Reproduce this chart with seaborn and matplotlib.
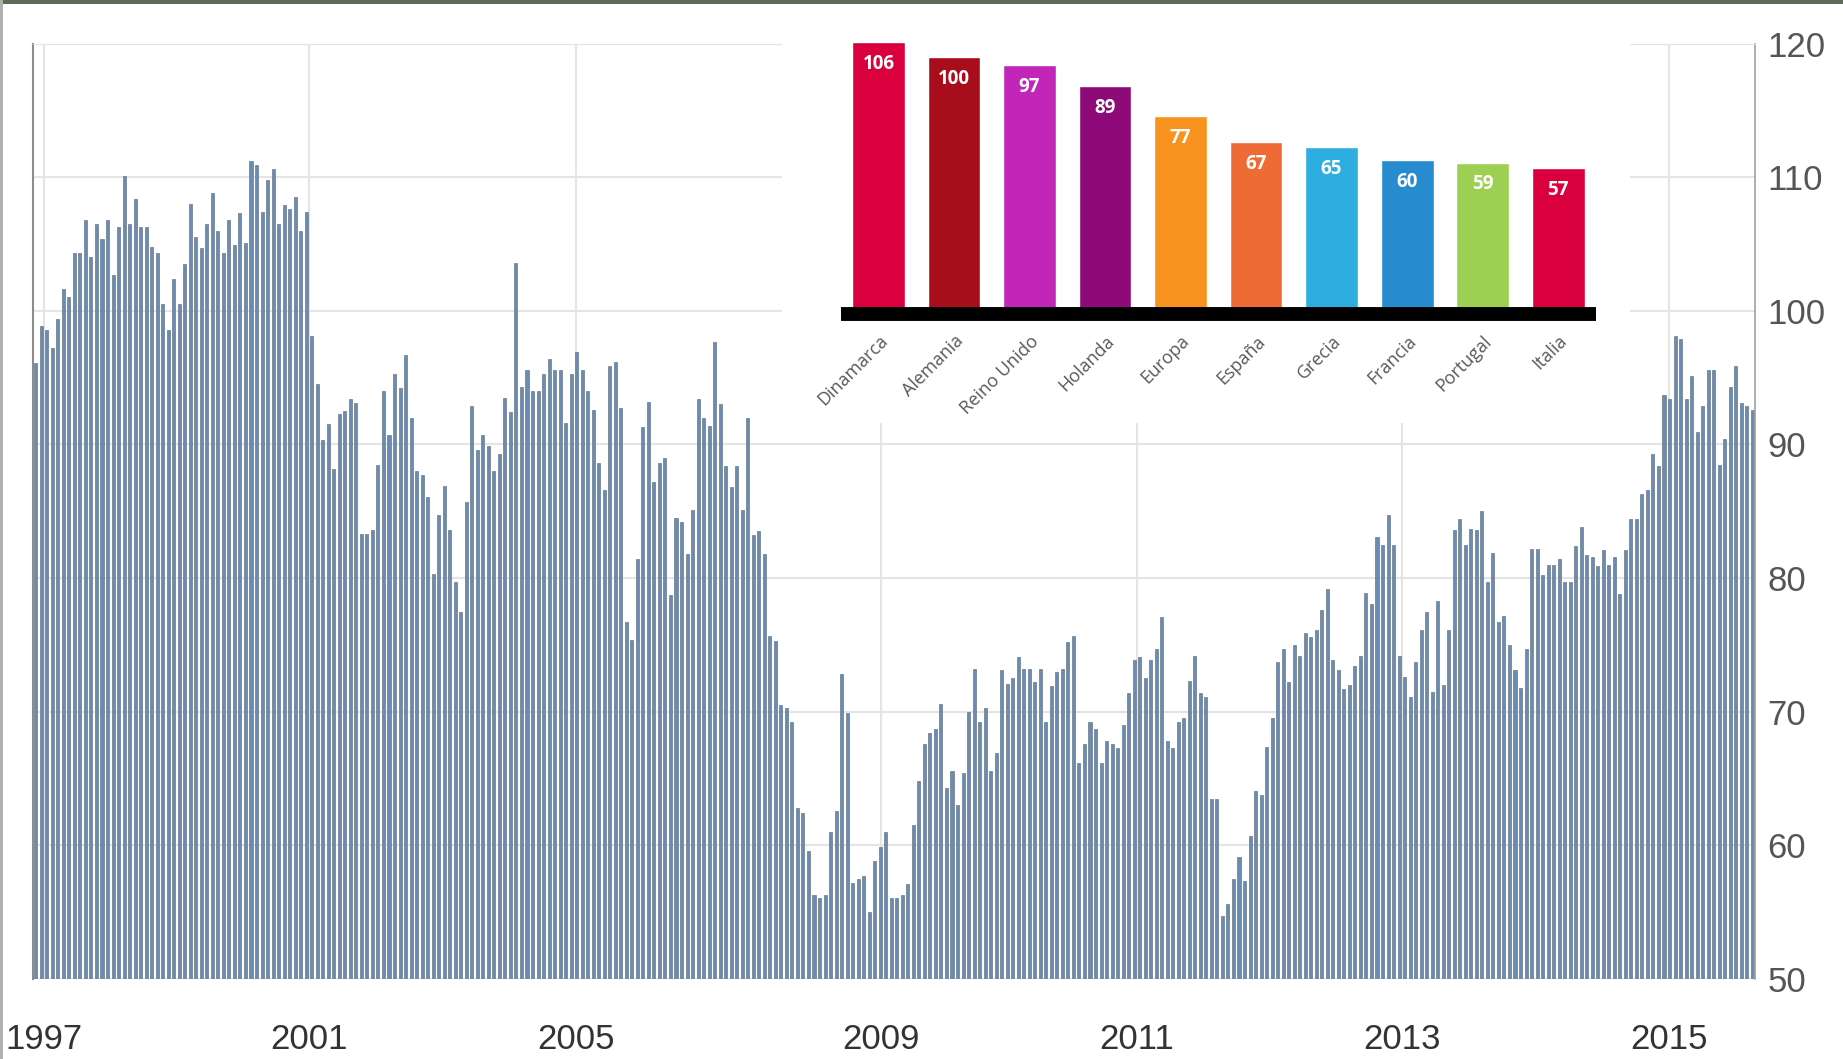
import pandas as pd
import matplotlib.pyplot as plt
import seaborn as sns
from matplotlib import font_manager
from matplotlib.patches import Rectangle

# ------------------------------------------
# Data (one bar per month, left to right)
# ------------------------------------------
confidence = [
    96.1, 98.9, 98.6, 97.2, 99.4, 101.6, 101.0, 104.3, 104.3, 106.8, 104.0, 106.5,
    105.4, 106.8, 102.7, 106.3, 110.1, 106.5, 108.4, 106.3, 106.3, 104.8, 104.3, 100.5,
    98.6, 102.4, 100.5, 103.5, 108.0, 105.5, 104.7, 106.5, 108.8, 106.0, 104.3, 106.8,
    104.9, 107.3, 105.1, 111.2, 110.9, 107.4, 109.8, 110.6, 106.5, 107.9, 107.6, 108.5,
    106.0, 107.4, 98.1, 94.5, 90.3, 91.5, 88.2, 92.3,
    92.5, 93.4, 93.1, 83.3, 83.3, 83.6, 88.5, 94.0, 90.7, 95.3, 94.2, 96.7,
    92.0, 88.0, 87.7, 86.1, 80.3, 84.7, 86.9, 83.6, 79.7, 77.5, 85.7, 92.9,
    89.6, 90.7, 89.9, 88.0, 89.3, 93.5, 92.4, 103.6, 94.3, 95.6, 94.0, 94.0,
    95.3, 96.4, 95.6, 95.6, 91.6, 95.3, 96.9, 95.6, 94.0, 92.6, 88.6, 86.6,
    95.9, 96.2, 92.7, 76.7, 75.4, 81.4, 91.3, 93.2, 87.2,
    88.6, 89.0, 78.7, 84.5, 84.2, 81.8, 85.1, 93.4, 92.0, 91.4, 97.7, 93.0,
    88.4, 86.8, 88.4, 85.1, 92.0, 83.2, 83.5, 81.8, 75.7, 75.3, 70.5, 70.3,
    69.2, 62.8, 62.4, 59.6, 56.3, 56.1, 56.3, 61.0, 62.6, 72.8, 69.9, 57.2,
    57.5, 57.7, 55.0, 58.8, 59.9, 61.0, 56.1, 56.1, 56.3, 57.1, 61.5, 64.8,
    67.6, 68.4, 68.7, 70.6, 64.3, 65.6, 63.0, 65.4,
    70.0, 73.2, 69.2, 70.3, 65.6, 66.9, 73.1, 72.1, 72.5, 74.1, 73.2, 73.2,
    72.2, 73.2, 69.2, 71.9, 73.0, 73.2, 75.2, 75.7, 66.2, 67.6, 69.2, 68.7,
    66.2, 67.8, 67.6, 67.3, 69.0, 71.4, 73.9, 74.1, 72.5, 73.9, 74.7, 77.1,
    67.8, 67.3, 69.2, 69.5, 72.3, 74.2, 71.4, 71.1, 63.5, 63.5, 54.7, 55.6,
    57.5, 59.1, 57.3, 60.7, 64.1, 63.8, 67.4, 69.5,
    73.7, 74.7, 72.2, 75.0, 74.2, 75.9, 75.6, 76.1, 77.6, 79.2, 73.9, 73.1,
    71.7, 72.0, 73.4, 74.2, 78.9, 78.1, 83.1, 82.5, 84.7, 82.5, 74.2, 72.6,
    71.1, 73.7, 76.1, 77.5, 71.5, 78.3, 72.0, 76.1, 83.6, 84.4, 82.5, 83.7,
    83.6, 85.0, 79.7, 81.9, 76.7, 77.2, 75.0, 73.1, 71.8, 74.7, 82.2, 82.2,
    80.2, 81.0, 81.0, 81.4, 79.7, 79.7, 82.4, 83.8, 81.7,
    81.6, 80.9, 82.1, 81.0, 81.6, 78.8, 82.1, 84.4, 84.4, 86.3, 86.6, 89.3,
    88.4, 93.7, 93.4, 98.1, 97.9, 93.4, 95.1, 90.9, 92.9, 95.6, 95.6, 88.5,
    90.4, 94.3, 95.9, 93.1, 92.9, 92.6,
]

year_labels = ['1997', '2001', '2005', '2009', '2011', '2013', '2015']
year_ticks = [1.5, 49.5, 97.9, 153.2, 199.5, 247.5, 295.9]  # bar index under each label

countries = ['Dinamarca', 'Alemania', 'Reino Unido', 'Holanda', 'Europa',
             'España', 'Grecia', 'Francia', 'Portugal', 'Italia']
country_vals = [106, 100, 97, 89, 77, 67, 65, 60, 59, 57]
country_colors = ['#d9003d', '#a80d1c', '#c126b8', '#8e0a78', '#f7931e',
                  '#ef6b36', '#2eaee0', '#278bd0', '#9dcf52', '#d9003d']

# ------------------------------------------
# Style / fonts
# ------------------------------------------
sns.set_style('white')
installed = {f.name for f in font_manager.fontManager.ttflist}
if 'Liberation Sans Narrow' in installed:
    axis_font, axis_size = 'Liberation Sans Narrow', 29
else:
    axis_font, axis_size = 'Liberation Sans', 25
plt.rcParams['font.family'] = ['Open Sans', 'DejaVu Sans']

fig = plt.figure(figsize=(18.43, 10.59), dpi=100)

# ------------------------------------------
# Main monthly bar chart
# ------------------------------------------
ax = fig.add_axes([0.0179, 0.0755, 0.9344, 0.8834])
df = pd.DataFrame({'month': range(len(confidence)), 'value': confidence})
sns.barplot(data=df, x='month', y='value', color='#6a8cb3', saturation=1,
            width=0.55, edgecolor='#6b7a88', linewidth=0.5, errorbar=None, ax=ax)

ax.set_xlim(-0.5, len(confidence) - 0.5)
ax.set_ylim(50, 120)
ax.set_yticks(range(50, 121, 10))
ax.yaxis.tick_right()
ax.set_xticks(year_ticks, year_labels)
ax.set_xlabel('')
ax.set_ylabel('')
ax.grid(True, color='#e4e4e4', linewidth=1.5)
ax.set_axisbelow(True)
ax.tick_params(axis='x', length=0, pad=32, labelsize=axis_size, labelcolor='#333333')
ax.tick_params(axis='y', length=0, pad=9, labelsize=axis_size, labelcolor='#555555')
plt.setp(ax.get_xticklabels() + ax.get_yticklabels(), family=axis_font)

ax.spines['left'].set_color('#8c8c8c')
ax.spines['left'].set_linewidth(1.5)
ax.spines['right'].set_color('#a0a0a0')
ax.spines['right'].set_linewidth(1.2)
ax.spines['top'].set_color('#e4e4e4')
ax.spines['bottom'].set_visible(False)

# white panel behind the inset
fig.add_artist(Rectangle((0.4243, 0.6006), 0.4601, 0.3966, transform=fig.transFigure,
                         facecolor='white', edgecolor='none', zorder=2))

# ------------------------------------------
# Inset: country comparison
# ------------------------------------------
ax_in = fig.add_axes([0.4562, 0.7035, 0.4097, 0.2616])
ax_in.set_zorder(3)
ax_in.patch.set_alpha(0)
sns.barplot(x=countries, y=country_vals, hue=countries, palette=country_colors,
            saturation=1, width=0.7, legend=False, ax=ax_in)
ax_in.set_xlim(-0.5, len(countries) - 0.5)
ax_in.set_ylim(0, 108)
ax_in.set_yticks([])
ax_in.set_xlabel('')
ax_in.set_ylabel('')
for side in ['left', 'top', 'right']:
    ax_in.spines[side].set_visible(False)
ax_in.spines['bottom'].set_color('black')
ax_in.spines['bottom'].set_linewidth(10)
ax_in.spines['bottom'].set_capstyle('butt')

for i, v in enumerate(country_vals):
    ax_in.text(i, v - 8.5, str(v), ha='center', va='center', color='white',
               fontsize=13.5, fontweight='bold')

ax_in.set_xticks(range(len(countries)), countries, rotation=45, ha='right',
                 rotation_mode='anchor')
ax_in.tick_params(axis='x', length=0, pad=13, labelsize=13, labelcolor='#595959')

# frame edges of the screenshot
fig.add_artist(Rectangle((0, 1 - 4 / 1059), 1, 4 / 1059, transform=fig.transFigure,
                         facecolor='#5d6b57', edgecolor='none', zorder=5))
fig.add_artist(Rectangle((0, 0), 3 / 1843, 1, transform=fig.transFigure,
                         facecolor='#b0b0b0', edgecolor='none', zorder=5))

fig.savefig('out.png', dpi=100)
